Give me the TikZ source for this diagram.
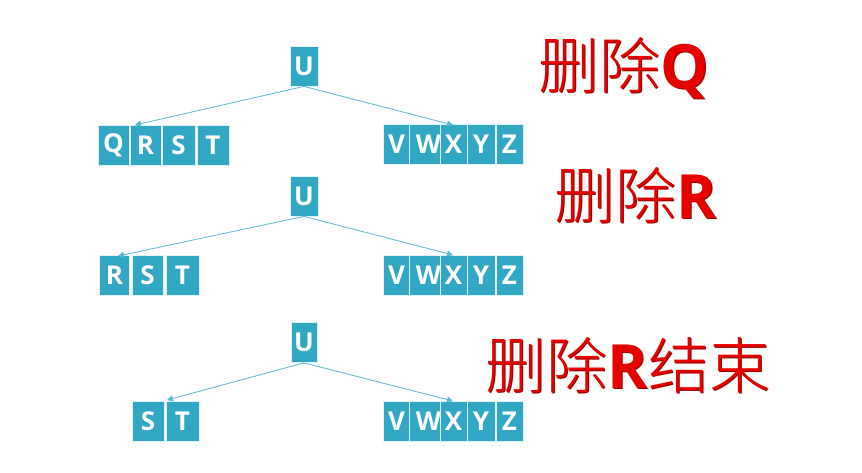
\documentclass[tikz,border=0pt]{standalone}
\usepackage{fontspec}
\setmainfont{Open Sans}
\newfontfamily\cjkf{Noto Sans CJK SC}[UprightFont=* Light]
\newfontfamily\boxf{Open Sans}
\usetikzlibrary{arrows.meta}
\definecolor{boxteal}{RGB}{49,167,196}
\definecolor{linkblue}{RGB}{90,185,210}
\definecolor{redtxt}{RGB}{230,0,0}
\definecolor{redshadow}{RGB}{150,0,0}
\tikzset{
  key/.style={draw=white!85!boxteal, line width=0.8pt, fill=boxteal, text=white,
    inner sep=0pt, minimum height=40pt, font=\boxf\fontsize{26}{26}\selectfont\bfseries},
  link/.style={draw=linkblue, line width=0.8pt, -{Triangle[length=6pt,width=6pt]}},
  title/.style={font=\cjkf\fontsize{61}{61}\selectfont, inner sep=0pt, text=redtxt},
  titleshadow/.style={font=\cjkf\fontsize{61}{61}\selectfont, inner sep=0pt, text=redshadow},
}
\newcommand{\bq}{{\boxf\bfseries Q}}
\newcommand{\br}{{\boxf\bfseries R}}
\newcommand{\ww}{\hspace*{7pt}W}
\begin{document}
\begin{tikzpicture}[x=1pt,y=-1pt]
\useasboundingbox (0,0) rectangle (862,473);
% ---------- row 1 ----------
\node[key, minimum width=28pt] (u1) at (304,66) {U};
\node[key, minimum width=31pt] (q1) at (113.5,145) {Q};
\node[key, minimum width=31pt] (r1) at (145.5,145) {R};
\node[key, minimum width=33pt] (s1) at (178.5,145) {S};
\node[key, minimum width=32pt] (t1) at (213,145) {T};
\node[key, minimum width=27pt] (v1) at (396.5,144.5) {V};
\node[key, minimum width=30pt] (w1) at (425,144.5) {\ww};
\node[key, minimum width=27pt] (x1) at (453.5,144.5) {X};
\node[key, minimum width=28pt] (y1) at (481,144.5) {Y};
\node[key, minimum width=27pt] (z1) at (509.5,144.5) {Z};
\coordinate (l1) at (135,125);
\coordinate (r1e) at (453,125);
\draw[link] (u1.south) -- (l1);
\draw[link] (u1.south) -- (r1e);
% ---------- row 2 ----------
\node[key, minimum width=28pt] (u2) at (304,196) {U};
\node[key, minimum width=30pt] (r2) at (114.5,275) {R};
\node[key, minimum width=31pt] (s2) at (147.5,275) {S};
\node[key, minimum width=33pt] (t2) at (182.5,275) {T};
\node[key, minimum width=27pt] (v2) at (396.5,275) {V};
\node[key, minimum width=30pt] (w2) at (425,275) {\ww};
\node[key, minimum width=27pt] (x2) at (453.5,275) {X};
\node[key, minimum width=28pt] (y2) at (481,275) {Y};
\node[key, minimum width=27pt] (z2) at (509.5,275) {Z};
\coordinate (l2) at (118,256);
\coordinate (r2e) at (453,255);
\draw[link] (u2.south) -- (l2);
\draw[link] (u2.south) -- (r2e);
% ---------- row 3 ----------
\node[key, minimum width=26pt] (u3) at (304,342.5) {U};
\node[key, minimum width=32pt] (s3) at (148,421) {S};
\node[key, minimum width=33pt] (t3) at (182.5,421) {T};
\node[key, minimum width=27pt] (v3) at (396.5,421) {V};
\node[key, minimum width=30pt] (w3) at (425,421) {\ww};
\node[key, minimum width=27pt] (x3) at (453.5,421) {X};
\node[key, minimum width=28pt] (y3) at (481,421) {Y};
\node[key, minimum width=27pt] (z3) at (509.5,421) {Z};
\coordinate (l3) at (167,400);
\coordinate (r3e) at (453,401);
\draw[link] (u3.south) -- (l3);
\draw[link] (u3.south) -- (r3e);
% ---------- titles ----------
\node[titleshadow] (t1s) at (625,69.5) {删除\bq};
\node[title] (title1) at (624,68.5) {删除\bq};
\node[titleshadow] (t2s) at (637,196.5) {删除\br};
\node[title] (title2) at (636,195.5) {删除\br};
\node[titleshadow] (t3s) at (629,366.5) {删除\br 结束};
\node[title] (title3) at (628,365.5) {删除\br 结束};
\end{tikzpicture}
\end{document}
